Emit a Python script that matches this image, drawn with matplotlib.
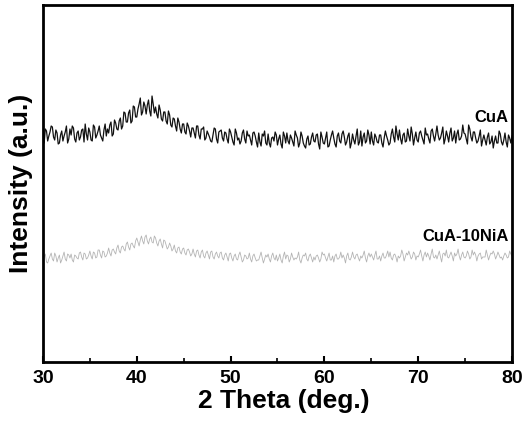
import numpy as np
import matplotlib
matplotlib.use('Agg')
from matplotlib import pyplot as plt
from matplotlib.ticker import MultipleLocator

plt.rcParams['font.family'] = ['Liberation Sans', 'DejaVu Sans']
plt.rcParams['font.weight'] = 'bold'

# 2-theta grid: readings every 0.25 deg, plus the in-between readings
two_theta = np.arange(30.0, 80.001, 0.25)
two_theta_mid = np.arange(30.125, 80.0, 0.25)

# CuA (arbitrary units)
cua = [
    224, 233, 221, 230,  235, 222, 229, 219,  231, 226, 236, 223,  227, 234, 220, 231,
    225, 233, 238, 222,  230, 221, 235, 227,  236, 224, 232, 226,  229, 240, 228, 239,
    232, 244, 236, 249,  240, 252, 241, 255,  245, 258, 247, 260,  248, 262, 246, 258,
    255, 244, 252, 241,  250, 238, 247, 235,  243, 231, 240, 229,  238, 228, 236, 225,
    234, 224, 236, 223,  233, 222, 231, 225,  220, 234, 223, 230,  232, 221, 229, 219,
    230, 220, 233, 222,  218, 229, 223, 231,  227, 217, 230, 220,  229, 216, 226, 219,
    228, 215, 225, 230,  217, 227, 214, 226,  229, 218, 224, 216,  227, 215, 230, 219,
    214, 226, 218, 229,  220, 228, 213, 225,  218, 230, 216, 227,  224, 215, 229, 219,
    231, 217, 226, 214,  228, 218, 233, 220,  216, 229, 221, 227,  230, 217, 225, 219,
    227, 215, 231, 222,  219, 233, 220, 228,  232, 218, 229, 221,  226, 235, 217, 230,
    220, 231, 222, 234,  228, 219, 233, 221,  236, 222, 229, 218,  231, 220, 234, 224,
    219, 232, 223, 237,  228, 218, 233, 221,  230, 219, 226, 216,  227, 217, 229, 220,
    214, 226, 219, 228,  217, 229, 215, 224,  226,
]
cua_mid = [
    219, 231, 226, 236,  225, 232, 218, 227,  221, 230, 219, 233,  236, 223, 229, 222,
    232, 220, 228, 234,  222, 237, 224, 231,  227, 221, 238, 233,  237, 226, 242, 233,
    241, 233, 250, 240,  249, 239, 256, 245,  253, 264, 250, 256,  257, 251, 266, 249,
    248, 257, 243, 250,  241, 251, 237, 244,  236, 244, 233, 238,  230, 239, 231, 234,
    229, 236, 227, 233,  235, 224, 228, 221,  227, 233, 219, 231,  224, 230, 223, 233,
    225, 217, 229, 224,  221, 232, 219, 226,  222, 229, 226, 215,  220, 228, 231, 217,
    219, 224, 221, 227,  223, 218, 230, 219,  221, 227, 220, 231,  224, 219, 226, 216,
    223, 217, 225, 221,  227, 218, 230, 219,  224, 215, 222, 231,  218, 226, 221, 228,
    225, 220, 229, 219,  222, 226, 217, 231,  225, 219, 232, 218,  221, 228, 220, 227,
    219, 224, 226, 217,  228, 225, 236, 222,  223, 227, 220, 233,  221, 228, 224, 222,
    229, 226, 218, 227,  223, 231, 226, 228,  227, 224, 235, 223,  226, 229, 221, 231,
    228, 222, 226, 229,  223, 237, 225, 230,  224, 221, 232, 222,  222, 225, 218, 226,
    221, 219, 231, 220,  222, 220, 227, 219,
]

# CuA-10NiA
cua_10nia = [
    101, 108, 99, 106,  103, 109, 100, 107,  102, 110, 101, 107,  108, 100, 106, 103,
    110, 102, 108, 104,  111, 103, 109, 105,  112, 104, 110, 106,  114, 106, 113, 108,
    117, 109, 116, 111,  120, 112, 119, 114,  124, 116, 126, 118,  127, 118, 125, 119,
    124, 116, 123, 114,  121, 113, 119, 111,  117, 109, 115, 108,  114, 107, 113, 106,
    113, 105, 112, 104,  112, 104, 111, 103,  111, 103, 110, 104,  110, 102, 109, 101,
    109, 101, 108, 102,  110, 100, 107, 103,  109, 100, 108, 101,  102, 110, 99, 107,
    108, 100, 109, 102,  101, 108, 99, 110,  107, 100, 109, 102,  103, 110, 99, 107,
    109, 101, 108, 100,  102, 107, 100, 110,  108, 101, 109, 102,  100, 108, 103, 110,
    107, 99, 109, 102,  110, 103, 108, 101,  104, 111, 100, 109,  108, 102, 111, 103,
    101, 109, 104, 111,  110, 102, 108, 100,  104, 112, 101, 109,  111, 103, 110, 102,
    105, 112, 101, 110,  109, 102, 113, 104,  103, 111, 100, 109,  112, 104, 110, 101,
    106, 113, 102, 110,  104, 111, 103, 112,  110, 101, 108, 103,  105, 112, 102, 109,
    111, 103, 110, 104,  102, 109, 104, 111,  106,
]
cua_10nia_mid = [
    105, 100, 103, 109,  101, 106, 104, 99,  106, 103, 108, 104,  102, 107, 104, 109,
    105, 109, 103, 107,  106, 110, 104, 112,  107, 111, 105, 109,  109, 112, 110, 114,
    111, 115, 113, 118,  115, 118, 116, 121,  120, 122, 121, 125,  121, 123, 120, 126,
    119, 121, 118, 122,  117, 115, 116, 113,  111, 114, 110, 113,  109, 112, 110, 108,
    108, 111, 107, 110,  106, 109, 107, 110,  105, 108, 106, 109,  104, 107, 105, 108,
    104, 106, 103, 107,  105, 102, 106, 104,  103, 106, 104, 102,  106, 104, 103, 105,
    103, 106, 104, 107,  104, 102, 106, 103,  106, 103, 105, 104,  105, 102, 104, 106,
    103, 106, 104, 105,  106, 104, 103, 107,  104, 105, 102, 106,  106, 103, 105, 104,
    104, 106, 103, 105,  105, 107, 104, 106,  107, 104, 106, 105,  105, 107, 103, 106,
    106, 104, 107, 105,  104, 107, 105, 106,  106, 108, 105, 107,  107, 105, 108, 106,
    108, 106, 107, 105,  106, 108, 105, 107,  107, 105, 108, 106,  105, 107, 106, 109,
    108, 106, 107, 105,  106, 108, 105, 107,  107, 106, 109, 105,  105, 107, 106, 108,
    108, 106, 107, 105,  106, 107, 105, 108,
]

# merge the two reading sets into one scan each
x_all = np.concatenate([two_theta, two_theta_mid])
order = np.argsort(x_all)
x_all = x_all[order]
cua_all = np.concatenate([cua, cua_mid])[order]
nia_all = np.concatenate([cua_10nia, cua_10nia_mid])[order]

fig = plt.figure(figsize=(5.26, 4.28), dpi=100)
ax = fig.add_axes([0.0817, 0.1542, 0.8917, 0.8341])

ax.plot(x_all, cua_all, color='#111111', lw=0.9)
ax.plot(x_all, nia_all, color='#b4b4b4', lw=0.6)

ax.text(79.6, 245, 'CuA', ha='right', va='center', fontsize=12, fontweight='bold')
ax.text(79.6, 126, 'CuA-10NiA', ha='right', va='center', fontsize=12, fontweight='bold')

ax.set_xlim(30, 80)
ax.set_ylim(0, 357)
ax.set_yticks([])
ax.xaxis.set_major_locator(MultipleLocator(10))
ax.xaxis.set_minor_locator(MultipleLocator(5))
ax.tick_params(axis='x', which='major', direction='in', length=4, width=1.5,
               labelsize=14, pad=6, top=False)
ax.tick_params(axis='x', which='minor', direction='in', length=3, width=1.2, top=False)
for lab in ax.get_xticklabels():
    lab.set_fontweight('bold')
for s in ax.spines.values():
    s.set_linewidth(2)

ax.set_xlabel('2 Theta (deg.)', fontsize=19, fontweight='bold', labelpad=1)
ax.xaxis.label.set_x(0.514)
ax.set_ylabel('Intensity (a.u.)', fontsize=19, fontweight='bold', labelpad=7)

fig.savefig('out.png', dpi=100)
